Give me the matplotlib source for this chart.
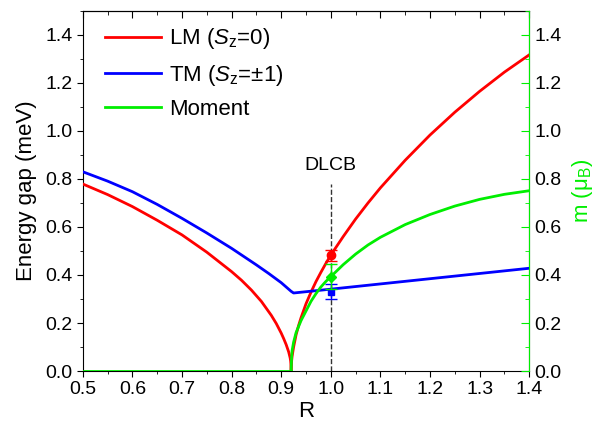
import numpy as np
import matplotlib
matplotlib.use("Agg")
import matplotlib.pyplot as plt
from matplotlib.ticker import MultipleLocator, NullFormatter

plt.rcParams['font.family'] = ['Liberation Sans', 'DejaVu Sans']
plt.rcParams['mathtext.fontset'] = 'custom'
plt.rcParams['mathtext.rm'] = 'Liberation Sans'
plt.rcParams['mathtext.it'] = 'Liberation Sans:italic'

# values
r_lm_left = [0.50, 0.55, 0.60, 0.65, 0.70, 0.75, 0.80, 0.82, 0.84, 0.86, 0.88,
             0.89, 0.90, 0.905, 0.91, 0.915, 0.918, 0.919, 0.9195, 0.92]
gap_lm_left = [0.779, 0.735, 0.685, 0.628, 0.567, 0.495, 0.414, 0.378, 0.337, 0.290, 0.232,
               0.198, 0.158, 0.135, 0.110, 0.080, 0.055, 0.042, 0.030, 0.0]

r_lm_right = [0.92, 0.921, 0.922, 0.925, 0.93, 0.935, 0.94, 0.95, 0.96, 0.97, 0.98, 0.99,
              1.00, 1.025, 1.05, 1.075, 1.10, 1.15, 1.20, 1.25, 1.30, 1.35, 1.40]
gap_lm_right = [0.0, 0.042, 0.061, 0.100, 0.151, 0.189, 0.222, 0.280, 0.328, 0.372, 0.411, 0.448,
                0.483, 0.560, 0.633, 0.700, 0.763, 0.878, 0.983, 1.078, 1.165, 1.245, 1.317]

r_mom_right = [0.92, 0.921, 0.922, 0.925, 0.93, 0.94, 0.96, 0.97, 0.98, 0.99, 1.00, 1.025, 1.05,
               1.075, 1.10, 1.15, 1.20, 1.25, 1.30, 1.35, 1.40]
moment_right = [0.0, 0.060, 0.085, 0.120, 0.160, 0.210, 0.290, 0.322, 0.350, 0.373, 0.393, 0.443,
                0.487, 0.525, 0.557, 0.610, 0.652, 0.687, 0.715, 0.736, 0.751]

r_mom_left = [0.50, 0.92]
moment_left = [0.0, 0.0]

r_tm = [0.50, 0.55, 0.60, 0.65, 0.70, 0.75, 0.80, 0.85, 0.875, 0.90, 0.91, 0.92, 0.925, 1.00, 1.40]
gap_tm = [0.830, 0.791, 0.747, 0.694, 0.636, 0.575, 0.511, 0.442, 0.406, 0.368, 0.350, 0.332,
          0.325, 0.341, 0.428]

# DLCB points at R = 1.0
r_exp = 1.0
lm_exp, lm_err = 0.483, 0.023
tm_exp, tm_err = 0.330, 0.032
mom_exp, mom_err = 0.393, 0.052

fig = plt.figure(figsize=(6.0, 4.37), dpi=100)
ax = fig.add_axes([0.138, 0.151, 0.744, 0.824])
ax2 = ax.twinx()

red, blue, green = '#ff0000', '#0000ff', '#00ee00'

h1, = ax.plot(r_lm_left, gap_lm_left, color=red, lw=2, zorder=3)
ax.plot(r_lm_right, gap_lm_right, color=red, lw=2, zorder=3)
h2, = ax.plot(r_tm, gap_tm, color=blue, lw=2, zorder=4)
h3, = ax2.plot(r_mom_right, moment_right, color=green, lw=2, zorder=3)
ax2.plot(r_mom_left, moment_left, color=green, lw=2, zorder=3)

ax.plot([r_exp, r_exp], [0, 0.78], ls='--', color='#333333', lw=1, zorder=1)
ax.text(r_exp, 0.855, 'DLCB', ha='center', va='center', fontsize=14)

ax.errorbar(r_exp, lm_exp, yerr=lm_err, fmt='o', color=red, ms=6, capsize=4, elinewidth=1, zorder=5)
ax.errorbar(r_exp, tm_exp, yerr=tm_err, fmt='s', color=blue, ms=5, capsize=4, elinewidth=1, zorder=5)
ax2.errorbar(r_exp, mom_exp, yerr=mom_err, fmt='D', color=green, ms=5, capsize=4, elinewidth=1, zorder=5)

ax.set_xlim(0.5, 1.4)
ax.set_ylim(0, 1.5)
ax2.set_ylim(0, 1.5)

ax.xaxis.set_major_locator(MultipleLocator(0.1))
ax.xaxis.set_minor_locator(MultipleLocator(0.05))
ax.yaxis.set_major_locator(MultipleLocator(0.2))
ax.yaxis.set_minor_locator(MultipleLocator(0.1))
ax2.yaxis.set_major_locator(MultipleLocator(0.2))
ax2.yaxis.set_minor_locator(MultipleLocator(0.1))

ax.tick_params(which='both', direction='out', labelsize=14)
ax.tick_params(which='major', length=4)
ax.tick_params(which='minor', length=2.5)

# top axis: ticks only, pointing inward
top = ax.secondary_xaxis('top')
top.xaxis.set_major_locator(MultipleLocator(0.1))
top.xaxis.set_minor_locator(MultipleLocator(0.05))
top.xaxis.set_major_formatter(NullFormatter())
top.tick_params(which='both', direction='in')
top.tick_params(which='major', length=5)
top.tick_params(which='minor', length=3)

ax2.tick_params(axis='y', which='both', direction='in', colors=green, labelcolor='black', labelsize=14)
ax2.tick_params(which='major', length=6)
ax2.tick_params(which='minor', length=3)
ax2.spines['right'].set_color(green)
for s in ['left', 'top', 'bottom']:
    ax2.spines[s].set_visible(False)

ax.set_xlabel('R', fontsize=16, labelpad=2)
ax.set_ylabel('Energy gap (meV)', fontsize=16, labelpad=6)
ax2.set_ylabel('m (μ$_\\mathrm{B}$)', fontsize=16, color=green, labelpad=6)

ax.legend([h1, h2, h3],
          [r'LM ($S_\mathrm{z}$=0)', r'TM ($S_\mathrm{z}$=$\pm$1)', 'Moment'],
          loc='upper left', bbox_to_anchor=(0.016, 1.0), frameon=False, fontsize=16,
          handlelength=2.5, handletextpad=0.35, labelspacing=0.5, borderaxespad=0.3)

fig.savefig('out.png', dpi=100)
